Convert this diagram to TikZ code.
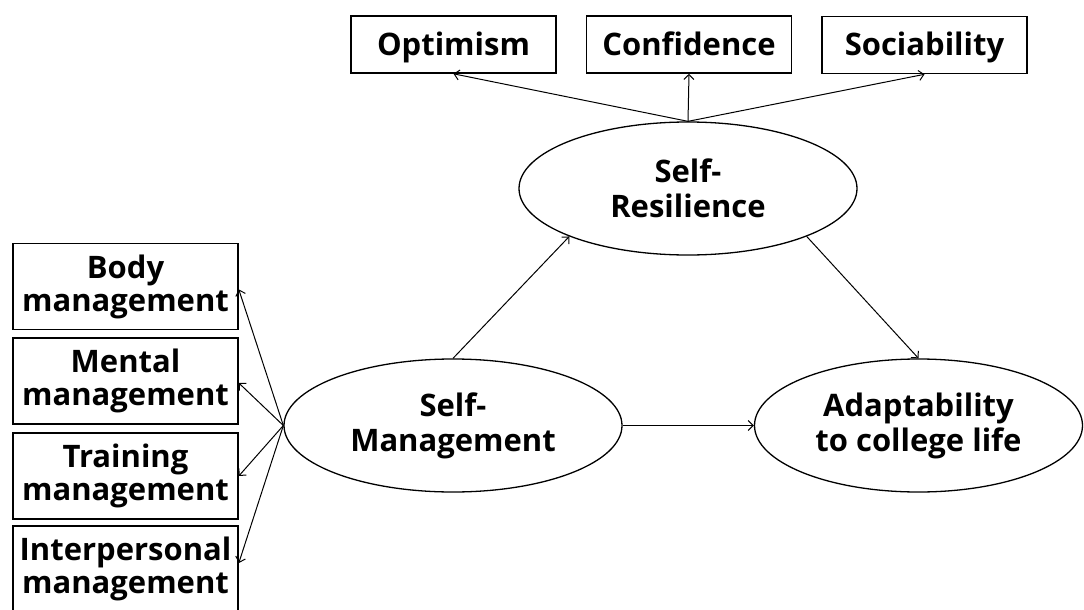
\documentclass[tikz,border=0pt]{standalone}
\usepackage{fontspec}
\setmainfont{Open Sans}
\usetikzlibrary{shapes.geometric,arrows.meta}
\begin{document}
\begin{tikzpicture}[x=1pt,y=-1pt,
  every node/.style={font=\bfseries\fontsize{31}{33}\selectfont, align=center, inner sep=0pt},
  box/.style={draw, line width=1.6pt, rectangle},
  topbox/.style={box, minimum width=205pt, minimum height=57pt, text height=22pt, text depth=0pt},
  leftbox/.style={box, minimum width=225pt, minimum height=86pt},
  latent/.style={draw, ellipse, line width=1.3pt, minimum width=338pt, minimum height=133pt, font=\bfseries\fontsize{31}{35}\selectfont},
  link/.style={line width=1pt, -{Straight Barb[length=5pt,width=10pt]}}
]
\path[use as bounding box] (0,0) rectangle (1084,610);
\clip (0,0) rectangle (1084,610);

\node[topbox] (opt) at (453.5,44.5) {Optimism};
\node[topbox] (conf) at (689,44.5) {Confidence};
\node[topbox] (soc) at (924.5,45) {Sociability};

\node[latent] (sr) at (688,188.5) {Self-\\Resilience};
\node[latent] (sm) at (453,425.5) {Self-\\Management};
\node[latent, minimum width=328pt] (ad) at (918.5,425.5) {Adaptability\\to college life};

\node[leftbox] (body) at (125.5,286.5) {Body\\management};
\node[leftbox] (ment) at (125.5,381) {Mental\\management};
\node[leftbox] (train) at (125.5,476) {Training\\management};
\node[leftbox] (inter) at (125.5,569) {Interpersonal\\management};

\draw[link] (sr.north) -- (opt.south);
\draw[link] (sr.north) -- (conf.south);
\draw[link] (sr.north) -- (soc.south);
\draw[link] (sm.north) -- (sr.202);
\draw[link] (sr.338) -- (ad.north);
\draw[link] (sm.east) -- (ad.west);
\draw[link] (sm.west) -- ([yshift=-3pt]body.east);
\draw[link] (sm.west) -- ([yshift=-2pt]ment.east);
\draw[link] (sm.west) -- (train.east);
\draw[link] (sm.west) -- ([yshift=6pt]inter.east);
\end{tikzpicture}
\end{document}
